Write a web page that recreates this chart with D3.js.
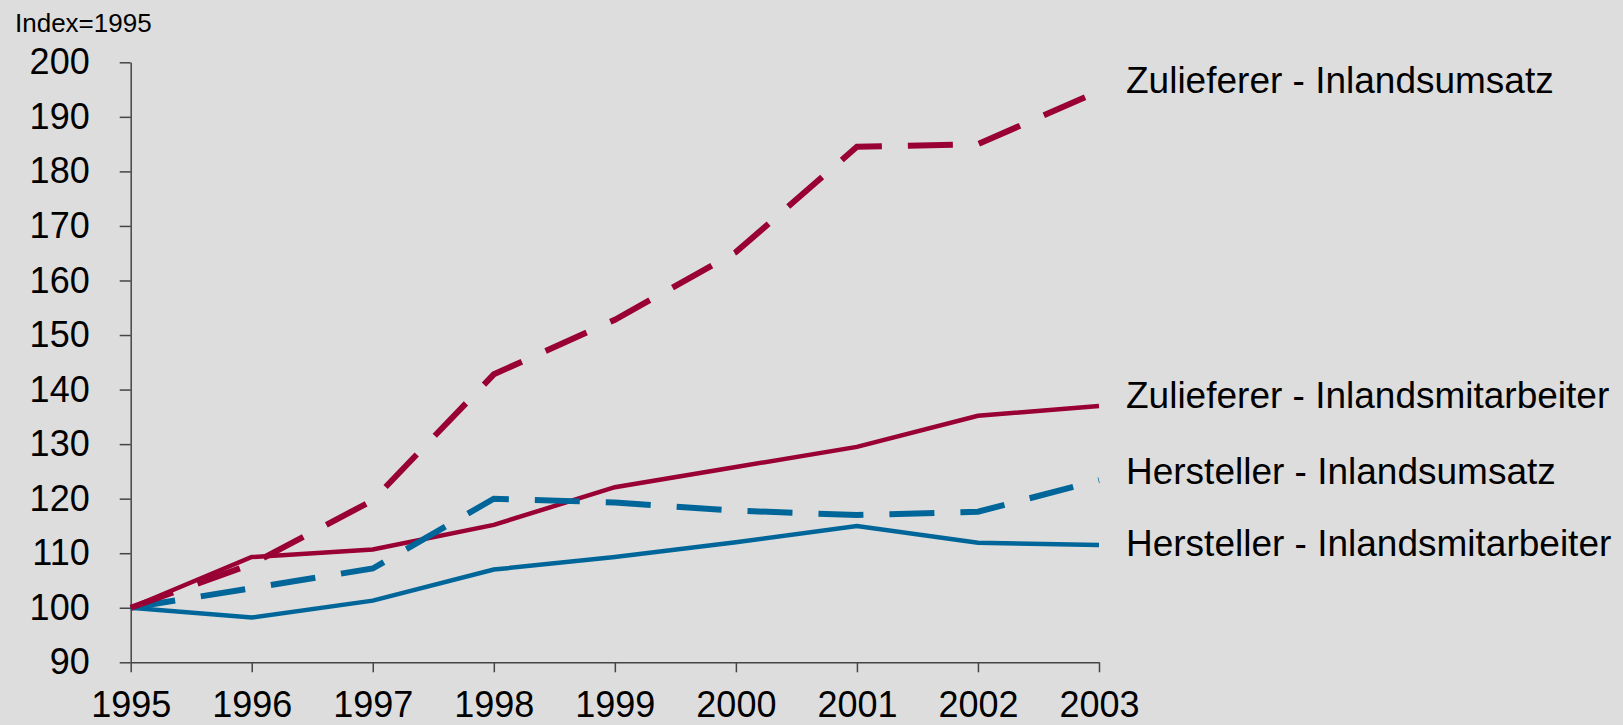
<!DOCTYPE html>
<html lang="de">

<head>
    <meta charset="UTF-8">
    <title>Zulieferer und Hersteller - Index 1995</title>
    <script src="https://d3js.org/d3.v7.min.js"></script>
    <style>
        body {
            margin: 0;
            background: #dddddd;
        }

        svg text {
            font-family: "Liberation Sans", Arial, sans-serif;
            fill: #000;
        }

        .axis path,
        .axis line {
            stroke: #444;
            stroke-width: 1.5;
        }

        .axis text {
            font-size: 36px;
        }
    </style>
</head>

<body>
    <svg id="chart" width="1623" height="725"></svg>

    <script>
        // Daten (Index 1995 = 100)
        const years = [1995, 1996, 1997, 1998, 1999, 2000, 2001, 2002, 2003];
        const yTicks = [90, 100, 110, 120, 130, 140, 150, 160, 170, 180, 190, 200];

        const zuliefererUmsatz = [100, 108.0, 119.7, 142.8, 152.8, 165.2, 184.5, 185.0, 194.7];
        const zuliefererMitarbeiter = [100, 109.3, 110.7, 115.2, 122.1, 125.8, 129.5, 135.2, 137.0];
        const herstellerUmsatz = [100, 103.6, 107.2, 120.0, 119.3, 117.8, 117.0, 117.6, 123.4];
        const herstellerMitarbeiter = [100, 98.2, 101.3, 107.0, 109.3, 112.0, 115.0, 111.9, 111.5];

        const seriesNames = [
            "Zulieferer - Inlandsumsatz",
            "Zulieferer - Inlandsmitarbeiter",
            "Hersteller - Inlandsumsatz",
            "Hersteller - Inlandsmitarbeiter"
        ];

        const red = "#990033";
        const blue = "#006699";

        const series = [
            { name: seriesNames[0], values: zuliefererUmsatz, color: red, dashed: true, labelY: 92.7 },
            { name: seriesNames[1], values: zuliefererMitarbeiter, color: red, dashed: false, labelY: 407.7 },
            { name: seriesNames[2], values: herstellerUmsatz, color: blue, dashed: true, labelY: 484.3 },
            { name: seriesNames[3], values: herstellerMitarbeiter, color: blue, dashed: false, labelY: 555.7 }
        ];

        const svg = d3.select("#chart");

        const x = d3.scaleLinear()
            .domain([1995, 2003])
            .range([130.7, 1099]);

        const y = d3.scaleLinear()
            .domain([90, 200])
            .range([662.3, 62.3]);

        // Achsen
        const xAxis = svg.append("g")
            .attr("class", "axis")
            .attr("transform", "translate(0," + y(90) + ")")
            .call(d3.axisBottom(x)
                .tickValues(years)
                .tickFormat(d3.format("d"))
                .tickSize(10)
                .tickSizeOuter(0)
                .tickPadding(0));

        // Grundlinie der Jahreszahlen direkt setzen (sonst unten abgeschnitten)
        xAxis.selectAll(".tick text")
            .attr("dy", null)
            .attr("y", 55);

        svg.append("g")
            .attr("class", "axis")
            .attr("transform", "translate(" + x(1995) + ",0)")
            .call(d3.axisLeft(y)
                .tickValues(yTicks)
                .tickSize(11)
                .tickSizeOuter(0)
                .tickPadding(30));

        svg.selectAll(".axis .domain").attr("stroke", "#444");

        // Linien
        const line = d3.line()
            .x((d, i) => x(years[i]))
            .y(d => y(d));

        // Reihenfolge: durchgezogene zuerst, gestrichelte oben
        const drawOrder = [series[3], series[1], series[2], series[0]];

        svg.selectAll(".serie")
            .data(drawOrder)
            .enter().append("path")
            .attr("class", "serie")
            .attr("d", d => line(d.values))
            .attr("fill", "none")
            .attr("stroke", d => d.color)
            .attr("stroke-width", d => d.dashed ? 6 : 4.5)
            .attr("stroke-dasharray", d => d.dashed ? "45,26" : null)
            .attr("stroke-linejoin", "miter");

        // Beschriftungen rechts
        svg.selectAll(".label")
            .data(series)
            .enter().append("text")
            .attr("class", "label")
            .attr("x", 1126)
            .attr("y", d => d.labelY)
            .attr("font-size", 37)
            .text(d => d.name);

        svg.append("text")
            .attr("x", 15)
            .attr("y", 32.3)
            .attr("font-size", 26)
            .text("Index=1995");
    </script>
</body>

</html>
